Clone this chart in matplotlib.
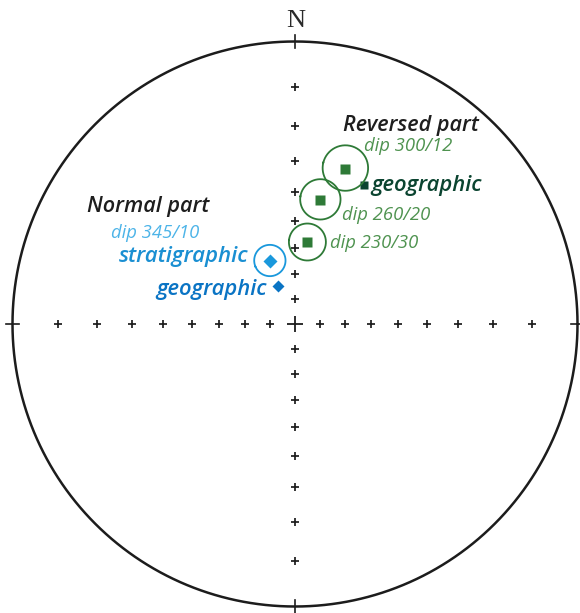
import numpy as np
import matplotlib
matplotlib.use("Agg")
import matplotlib.pyplot as plt

# Site-mean palaeomagnetic directions (declination, inclination, alpha95)
normal_labels = ["geographic", "stratigraphic"]
normal_dec = [336.0, 338.4]
normal_inc = [73.2, 62.9]
normal_a95 = [None, 6.0]

reversed_labels = ["geographic", "dip 260/20", "dip 230/30", "dip 300/12"]
reversed_dec = [26.5, 11.5, 8.6, 17.9]
reversed_inc = [32.3, 41.7, 57.4, 30.0]
reversed_a95 = [None, 6.8, 6.9, 6.9]

grid_inc = [80, 70, 60, 50, 40, 30, 20, 10]


def stereo(dec, inc):
    """Equal-angle (Wulff) projection of a direction onto the unit net."""
    d = np.radians(dec)
    r = np.tan(np.radians(90.0 - np.abs(inc)) / 2.0)
    return r * np.sin(d), r * np.cos(d)


def cone(dec, inc, a95, n=181):
    """Small circle of radius a95 around a direction, projected."""
    d, i, a = np.radians(dec), np.radians(inc), np.radians(a95)
    v = np.array([np.cos(i) * np.cos(d), np.cos(i) * np.sin(d), np.sin(i)])
    e1 = np.cross(v, [0.0, 0.0, 1.0])
    e1 /= np.linalg.norm(e1)
    e2 = np.cross(v, e1)
    t = np.linspace(0, 2 * np.pi, n)
    pts = (np.cos(a) * v[:, None]
           + np.sin(a) * (np.cos(t) * e1[:, None] + np.sin(t) * e2[:, None]))
    dd = np.degrees(np.arctan2(pts[1], pts[0]))
    ii = np.degrees(np.arcsin(np.clip(pts[2], -1, 1)))
    return stereo(dd, ii)


W, H, DPI = 580, 613, 100
CX, CY, R = 295.0, 324.0, 282.5   # net centre and radius in pixels


def px(x, y):
    return (x - CX) / R, (CY - y) / R


fig = plt.figure(figsize=(W / DPI, H / DPI), dpi=DPI)
ax = fig.add_axes([0, 0, 1, 1])
ax.set_xlim(-CX / R, (W - CX) / R)
ax.set_ylim(-(H - CY) / R, CY / R)
ax.axis("off")

ink = "#1c1c1c"

# primitive circle
t = np.linspace(0, 2 * np.pi, 721)
ax.plot(np.cos(t), np.sin(t), color=ink, lw=1.8, solid_capstyle="round")

# cardinal ticks crossing the primitive
for ang in (0, 90, 180, 270):
    a = np.radians(ang)
    ax.plot([0.978 * np.sin(a), 1.022 * np.sin(a)],
            [0.978 * np.cos(a), 1.022 * np.cos(a)], color=ink, lw=1.2)

# inclination crosses along the N-S and E-W axes
for az in (0, 90, 180, 270):
    gx, gy = stereo(np.full(len(grid_inc), az), np.array(grid_inc))
    ax.plot(gx, gy, ls="none", marker="+", ms=5.2, mew=1.25, color=ink)
ax.plot([0], [0], marker="+", ms=11, mew=1.3, color=ink)

ax.text(*px(295.5, 21), "N", ha="center", va="center",
        fontsize=19, family="Liberation Serif", color="#2a2a2a")

# ---- normal polarity ----
blue_light = "#1a98dc"
blue_dark = "#0a74c4"
nx, ny = stereo(np.array(normal_dec), np.array(normal_inc))
ax.plot(nx[0], ny[0], marker="D", ms=6.3, color=blue_dark, mec="none")
ax.plot(nx[1], ny[1], marker="D", ms=6.8, color=blue_light, mec="none")
cx_, cy_ = cone(normal_dec[1], normal_inc[1], normal_a95[1])
ax.plot(cx_, cy_, color=blue_light, lw=1.3)

# ---- reversed polarity ----
green = "#2e7a37"
green_dark = "#0b4430"
green_txt = "#4f9350"
rx, ry = stereo(np.array(reversed_dec), np.array(reversed_inc))
ax.plot(rx[0], ry[0], marker="s", ms=6.3, color=green_dark, mec="none")
for k in range(1, 4):
    ax.plot(rx[k], ry[k], marker="s", ms=6.8, color=green, mec="none")
    cx_, cy_ = cone(reversed_dec[k], reversed_inc[k], reversed_a95[k])
    ax.plot(cx_, cy_, color=green, lw=1.3)

# ---- labels ----
big = dict(family="Open Sans", style="italic", weight="semibold",
           ha="left", va="baseline")
small = dict(family="Open Sans", style="italic", weight="normal",
             ha="left", va="baseline")
ax.text(*px(87, 211.5), "Normal part", fontsize=15.6, color="#1e1e1e", **big)
ax.text(*px(111, 237.5), "dip 345/10", fontsize=13.3, color="#4db4e8", **small)
ax.text(*px(119, 261.5), normal_labels[1], fontsize=16, color="#1a8fd2", **big)
ax.text(*px(156, 295), normal_labels[0], fontsize=15.8, color=blue_dark, **big)

ax.text(*px(343, 130.5), "Reversed part", fontsize=15.6, color="#1e1e1e", **big)
ax.text(*px(364, 151), reversed_labels[3], fontsize=13.3, color=green_txt, **small)
ax.text(*px(371, 190.5), reversed_labels[0], fontsize=15.8, color=green_dark, **big)
ax.text(*px(342, 220), reversed_labels[1], fontsize=13.3, color=green_txt, **small)
ax.text(*px(330, 248.3), reversed_labels[2], fontsize=13.3, color=green_txt, **small)

fig.savefig("out.png", dpi=DPI)
